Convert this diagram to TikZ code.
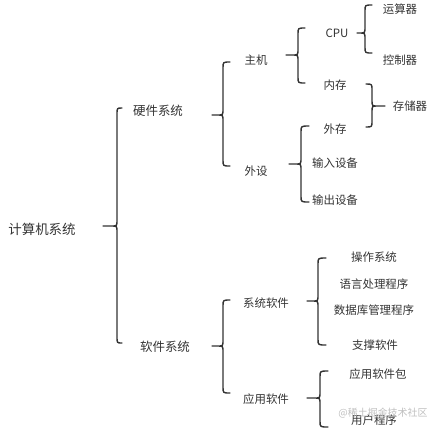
\documentclass[tikz,border=0pt]{standalone}
\usepackage{fontspec}
\newfontfamily\cjk{Noto Sans CJK SC}
\begin{document}
\begin{tikzpicture}[x=1bp,y=-1bp,
  lbl/.style={font=\cjk\fontsize{11.5}{13}\selectfont, text=black!80, inner sep=0pt},
  lblb/.style={font=\cjk\fontsize{12.5}{14}\selectfont, text=black!80, inner sep=0pt},
  lblt/.style={font=\cjk\fontsize{13.5}{15}\selectfont, text=black!80, inner sep=0pt},
  brc/.style={draw=black!80, line width=1.4pt, line cap=round, line join=round},
  wm/.style={font=\cjk\fontsize{10}{12}\selectfont, text=black!25, inner sep=0pt}]
\useasboundingbox (0,0) rectangle (436,431);
% left-pointing brace: #1 tip x, #2 vertical x, #3 end x, #4 top y, #5 tip y, #6 bottom y
\def\bracel#1#2#3#4#5#6{%
  \draw[brc] (#3,#4) .. controls (#2,#4) .. (#2,#4+6) -- (#2,#5-6)
     .. controls (#2,#5) .. (#2-5,#5) -- (#1,#5)
     (#2-5,#5) .. controls (#2,#5) .. (#2,#5+6) -- (#2,#6-6)
     .. controls (#2,#6) .. (#3,#6);}
% nodes
\node[lblt] (root) at (42,229) {计算机系统};
\node[lblb] (hw) at (158,111) {硬件系统};
\node[lblb] (sw) at (165,347) {软件系统};
\node[lbl] (host) at (256,60) {主机};
\node[lbl] (peri) at (256,171) {外设};
\node[lbl] (cpu) at (337,33) {CPU};
\node[lbl] (mem) at (335,85) {内存};
\node[lbl] (alu) at (400,9) {运算器};
\node[lbl] (ctl) at (400,60) {控制器};
\node[lbl] (store) at (410,106) {存储器};
\node[lbl] (ext) at (335,129) {外存};
\node[lbl] (in) at (335,163) {输入设备};
\node[lbl] (out) at (335,200) {输出设备};
\node[lbl] (syssw) at (266,303) {系统软件};
\node[lbl] (appsw) at (266,399) {应用软件};
\node[lbl] (os) at (374,257) {操作系统};
\node[lbl] (lang) at (374,284) {语言处理程序};
\node[lbl] (db) at (374,310) {数据库管理程序};
\node[lbl] (sup) at (375,345) {支撑软件};
\node[lbl] (pkg) at (378,374) {应用软件包};
\node[lbl] (user) at (374,420) {用户程序};
\node[wm] (wmark) at (383,413) {@稀土掘金技术社区};
% braces
\bracel{103}{117}{122}{108}{226}{343}
\bracel{212}{223}{230}{62}{115}{166}
\bracel{286}{298}{305}{28}{55}{83}
\bracel{357}{365}{372}{5}{33}{53}
\bracel{289}{301}{309}{126}{164}{202}
\bracel{212}{223}{230}{300}{346}{393}
\bracel{307}{318}{326}{258}{301}{345}
\bracel{307}{320}{328}{371}{398}{427}
% right-pointing brace for 存储器
\draw[brc] (366,84) .. controls (372,84) .. (372,90) -- (372,100)
   .. controls (372,106) .. (377,106) -- (385,106)
   (377,106) .. controls (372,106) .. (372,112) -- (372,121)
   .. controls (372,127) .. (366,127);
\end{tikzpicture}
\end{document}
